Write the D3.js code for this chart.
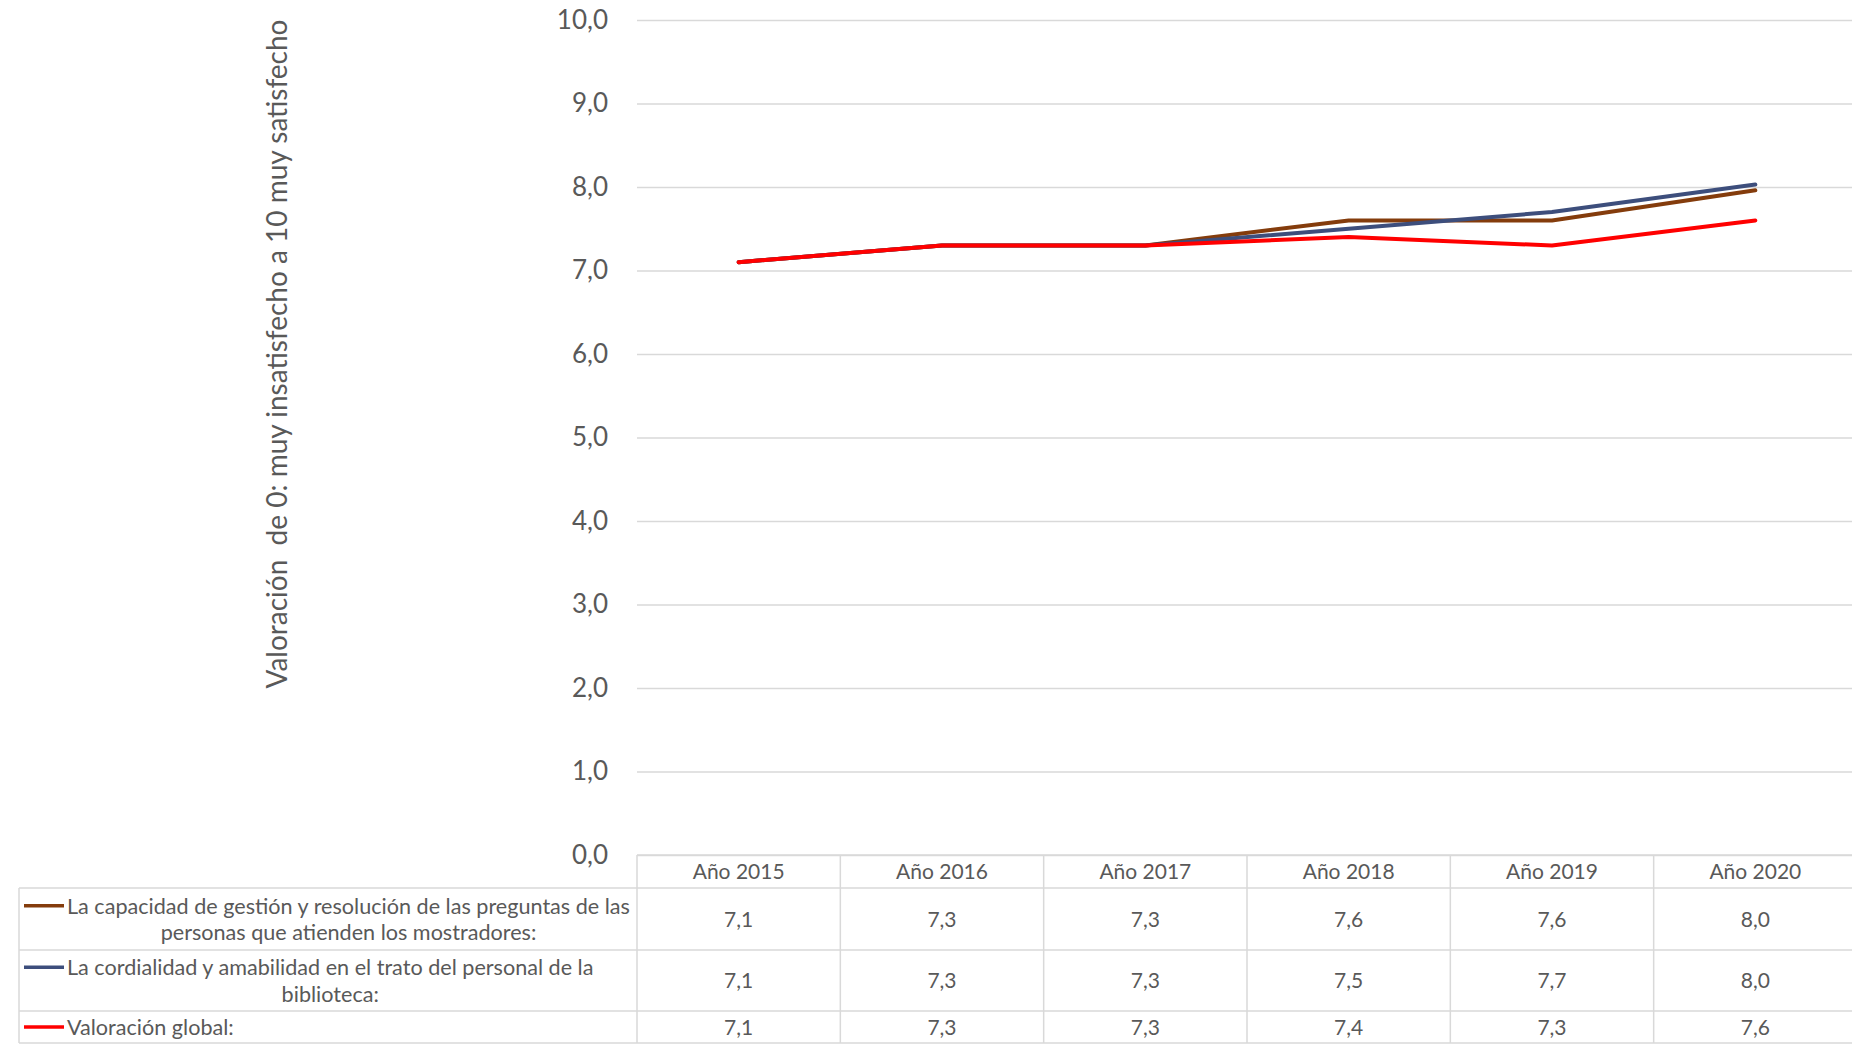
<!DOCTYPE html>
<html>
<head>
<meta charset="utf-8">
<script src="https://cdn.jsdelivr.net/npm/d3@7"></script>
<style>
  html, body { margin: 0; padding: 0; background: #fff; }
  svg { display: block; font-family: Lato, "Open Sans", sans-serif; }
</style>
</head>
<body>
<svg id="chart" width="1852" height="1044"></svg>
<script>
// ---- data ----
const years = ["Año 2015", "Año 2016", "Año 2017", "Año 2018", "Año 2019", "Año 2020"];
const capacidad = [7.1, 7.3, 7.3, 7.6, 7.6, 7.96];
const cordialidad = [7.1, 7.3, 7.3, 7.5, 7.7, 8.03];
const global = [7.1, 7.3, 7.3, 7.4, 7.3, 7.6];
const seriesNames = [
  ["La capacidad de gestión y resolución de las preguntas de las", "personas que atienden los mostradores:"],
  ["La cordialidad y amabilidad en el trato del personal de la", "biblioteca:"],
  ["Valoración global:"]
];
const seriesColors = ["#843C0C", "#3D4E7C", "#FF0000"];
const yTicks = [0, 1, 2, 3, 4, 5, 6, 7, 8, 9, 10];
const yTitle = "Valoración  de 0: muy insatisfecho a 10 muy satisfecho";

const series = [capacidad, cordialidad, global];

// ---- layout ----
const W = 1852, H = 1044;
const plot = { left: 637, right: 1857, top: 20, bottom: 855 };
const rows = [[855, 888], [888, 950], [950, 1011], [1011, 1043]];
const tableLeft = 19;
const textColor = "#595959";
const gridColor = "#D9D9D9";
const fmt = v => d3.format(".1f")(v).replace(".", ",");

const svg = d3.select("#chart");
svg.append("rect").attr("width", W).attr("height", H).attr("fill", "#fff");

const x = d3.scaleBand().domain(years).range([plot.left, plot.right]);
const y = d3.scaleLinear().domain([0, 10]).range([plot.bottom, plot.top]);

// y axis with gridlines
const yAxis = d3.axisLeft(y)
  .tickValues(yTicks)
  .tickSize(-(plot.right - plot.left))
  .tickPadding(29)
  .tickFormat(fmt);
const gy = svg.append("g").attr("transform", `translate(${plot.left},0)`).call(yAxis);
gy.select(".domain").remove();
gy.selectAll(".tick line").attr("stroke", gridColor).attr("stroke-width", 1.5);
gy.selectAll(".tick text")
  .attr("fill", textColor)
  .style("font-size", "26px")
  .attr("font-family", "Lato, sans-serif");

// y title
svg.append("text")
  .attr("transform", `translate(287,354) rotate(-90)`)
  .attr("text-anchor", "middle")
  .attr("fill", textColor)
  .style("font-size", "28px")
  .attr("xml:space", "preserve")
  .style("white-space", "pre")
  .text(yTitle);

// lines
const line = d3.line()
  .x((d, i) => x(years[i]) + x.bandwidth() / 2)
  .y(d => y(d));
series.forEach((s, k) => {
  svg.append("path")
    .datum(s)
    .attr("d", line)
    .attr("fill", "none")
    .attr("stroke", seriesColors[k])
    .attr("stroke-width", 4)
    .attr("stroke-linejoin", "round")
    .attr("stroke-linecap", "round");
});

// ---- data table ----
const tg = svg.append("g");
tg.append("line").attr("x1", plot.left).attr("x2", plot.right).attr("y1", rows[0][0]).attr("y2", rows[0][0]);
rows.forEach(r => {
  tg.append("line").attr("x1", tableLeft).attr("x2", plot.right).attr("y1", r[1]).attr("y2", r[1]);
});
tg.append("line").attr("x1", tableLeft).attr("x2", tableLeft).attr("y1", rows[1][0]).attr("y2", rows[3][1]);
years.forEach(yr => {
  tg.append("line").attr("x1", x(yr)).attr("x2", x(yr)).attr("y1", rows[0][0]).attr("y2", rows[3][1]);
});
tg.selectAll("line").attr("stroke", gridColor).attr("stroke-width", 1.5);

// header
years.forEach(yr => {
  tg.append("text")
    .attr("x", x(yr) + x.bandwidth() / 2)
    .attr("y", (rows[0][0] + rows[0][1]) / 2)
    .attr("dy", "0.36em")
    .attr("text-anchor", "middle")
    .attr("fill", textColor)
    .style("font-size", "21px")
    .text(yr);
});

// values
series.forEach((s, k) => {
  const r = rows[k + 1];
  const cy = (r[0] + r[1]) / 2;
  s.forEach((v, i) => {
    tg.append("text")
      .attr("x", x(years[i]) + x.bandwidth() / 2)
      .attr("y", cy)
      .attr("dy", "0.36em")
      .attr("text-anchor", "middle")
      .attr("fill", textColor)
      .style("font-size", "21px")
      .text(fmt(v));
  });
});

// legend cells
const legendTextX = 67;
const lineGap = 26.5;
seriesNames.forEach((lines, k) => {
  const r = rows[k + 1];
  const cy = (r[0] + r[1]) / 2;
  const firstY = cy - (lines.length - 1) * lineGap / 2;
  const t = tg.append("text")
    .attr("text-anchor", "middle")
    .attr("fill", textColor)
    .style("font-size", "21.6px");
  const spans = lines.map((ln, j) => t.append("tspan").attr("y", firstY + j * lineGap).attr("dy", "0.36em").text(ln));
  let maxW = 0;
  spans.forEach(sp => { maxW = Math.max(maxW, sp.node().getComputedTextLength()); });
  spans.forEach(sp => sp.attr("x", legendTextX + maxW / 2));
  tg.append("line")
    .attr("x1", 24).attr("x2", 64)
    .attr("y1", firstY).attr("y2", firstY)
    .attr("stroke", seriesColors[k])
    .attr("stroke-width", 3.5);
});
</script>
</body>
</html>
